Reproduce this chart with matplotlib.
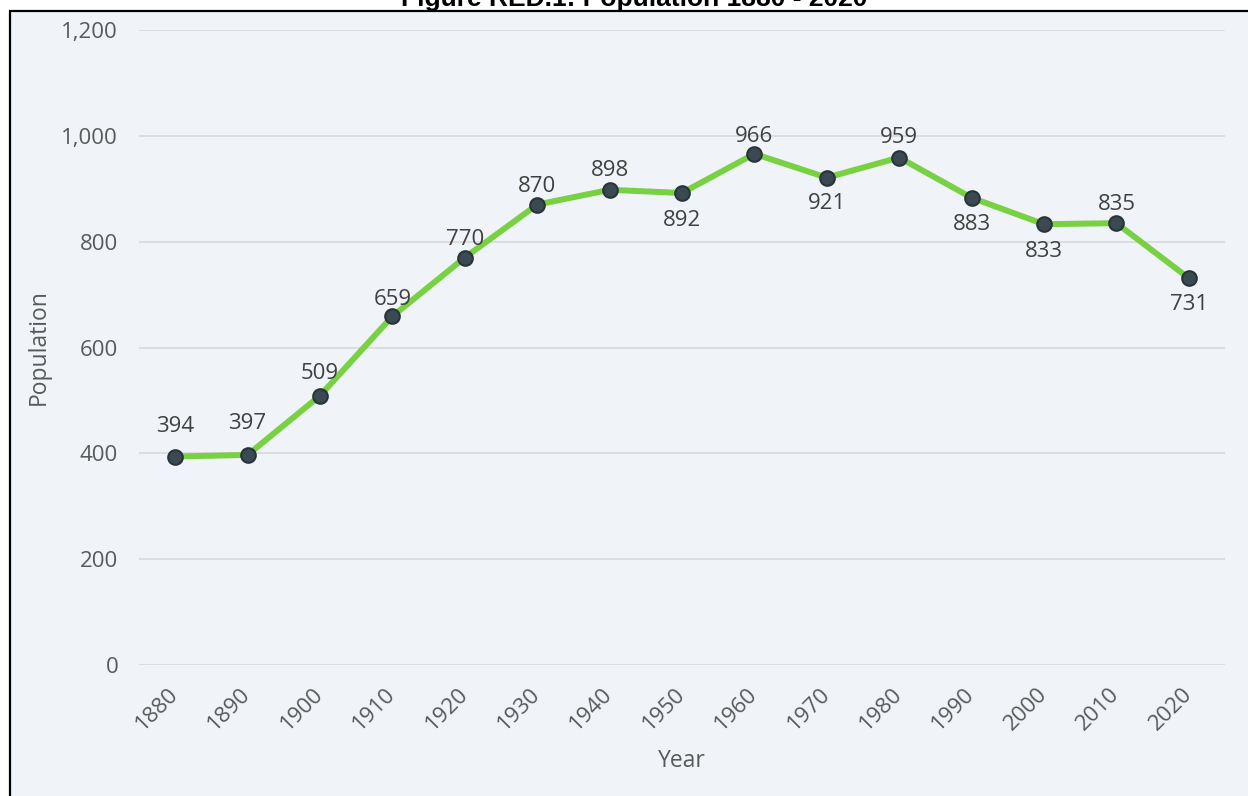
import matplotlib
matplotlib.use("Agg")
import matplotlib.pyplot as plt
from matplotlib.patches import Rectangle

years = ["1880", "1890", "1900", "1910", "1920", "1930", "1940", "1950",
         "1960", "1970", "1980", "1990", "2000", "2010", "2020"]
population = [394, 397, 509, 659, 770, 870, 898, 892, 966, 921, 959, 883, 833, 835, 731]
yticks = [0, 200, 400, 600, 800, 1000, 1200]

# label placement (style): vertical offset of label centre from the point, in pixels
label_shift_px = [32, 33, 24, 19, 20, 20, 21, -26, 19, -24, 22, -25, -25, 21, -24]

W, H = 1248, 796
fig = plt.figure(figsize=(W / 100, H / 100), dpi=100)
fig.patch.set_facecolor("white")

bg = "#f0f4f8"
fig.patches.append(Rectangle((10 / W, -0.05), 1.2, (1 - 11 / H) + 0.05,
                             transform=fig.transFigure, facecolor=bg,
                             edgecolor="black", linewidth=1.6, zorder=-5))

ax = fig.add_axes([139 / W, 1 - 665 / H, (1225 - 139) / W, (665 - 30) / H])
ax.set_zorder(2)
ax.patch.set_alpha(0)

font = "Open Sans"
fs = 16
x = list(range(len(years)))
ax.plot(x, population, color="#78d143", linewidth=4.3, zorder=3, solid_capstyle="round")
ax.plot(x, population, linestyle="none", marker="o", markersize=10.5,
        markerfacecolor="#3b4a52", markeredgecolor="#28343a", markeredgewidth=1.5, zorder=4)

half_digit = 7.5
for xi, v, s in zip(x, population, label_shift_px):
    base_px = s - half_digit
    ax.annotate(f"{v}", (xi, v), xytext=(0, base_px * 0.72), textcoords="offset points",
                ha="center", va="baseline", fontsize=fs, color="#404040", family=font)

ax.set_xlim(-0.5, len(years) - 0.5)
ax.set_ylim(0, 1200)
ax.set_yticks(yticks)
ax.set_yticklabels([f"{t:,}" for t in yticks], fontsize=fs, color="#595959", family=font)
ax.set_xticks(x)
ax.set_xticklabels(years, rotation=45, ha="right", va="center", rotation_mode="anchor",
                   fontsize=fs, color="#595959", family=font)
ax.tick_params(axis="both", length=0)
ax.tick_params(axis="y", pad=15)
ax.tick_params(axis="x", pad=19)
ax.grid(axis="y", color="#d9d9d9", linewidth=1.2)
ax.set_axisbelow(True)
for sp in ax.spines.values():
    sp.set_visible(False)

ax.set_ylabel("Population", fontsize=16.5, color="#595959", family=font, labelpad=7.5)
ax.set_xlabel("Year", fontsize=16.5, color="#595959", family=font, labelpad=10)

fig.text(634 / W, 1 - 6 / H, "Figure RED.1: Population 1880 - 2020", ha="center", va="baseline",
         fontsize=19, fontweight="bold", family="Liberation Sans", color="black", zorder=-1)

fig.savefig("out.png", dpi=100, facecolor="white")
